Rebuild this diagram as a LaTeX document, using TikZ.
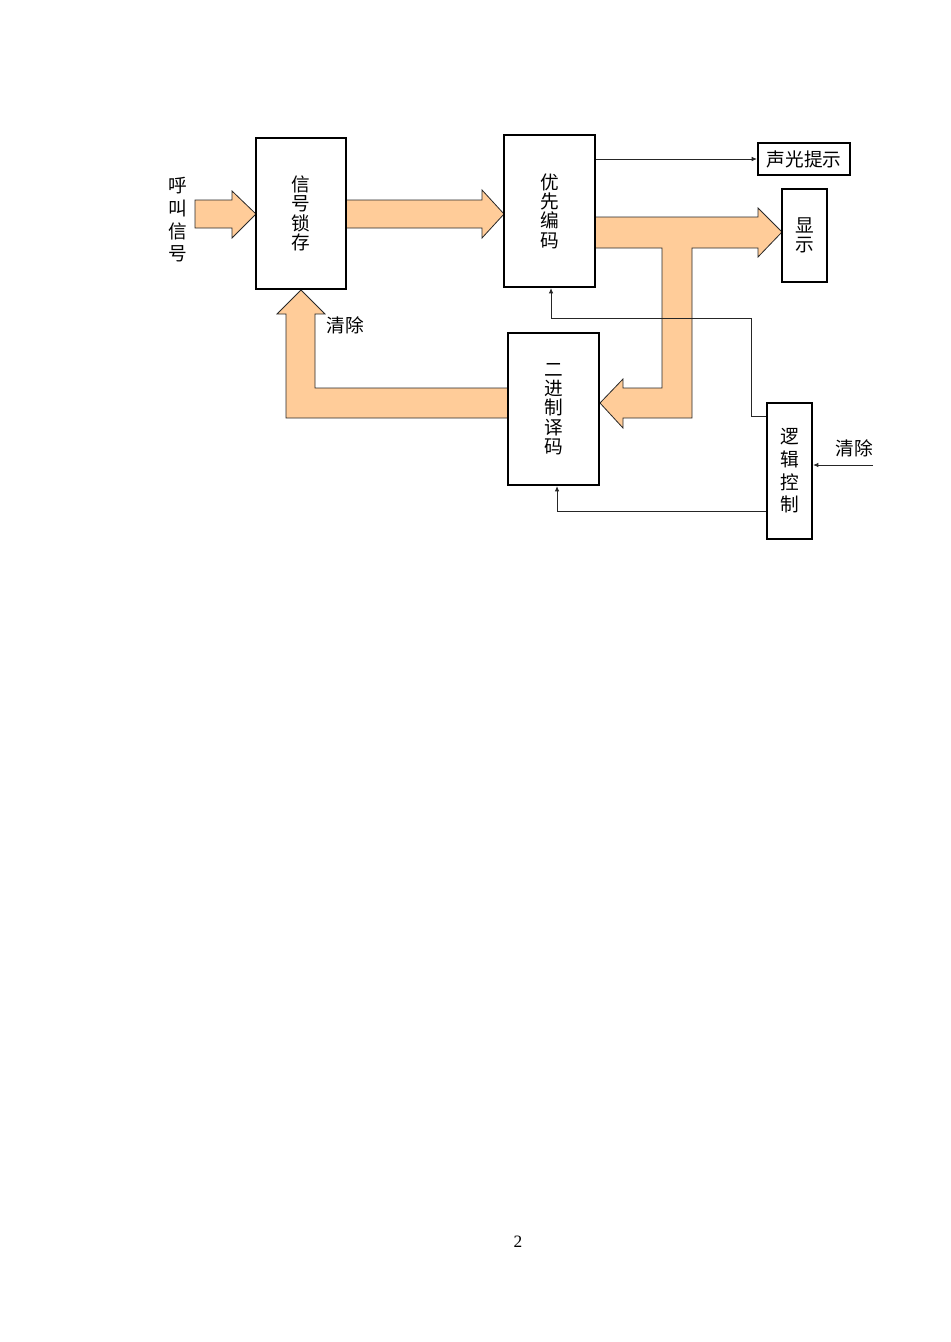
\documentclass[tikz,border=0pt]{standalone}
\usepackage{fontspec}
\setmainfont{Liberation Serif}
\newfontfamily\cjk{Noto Sans CJK SC}
\usetikzlibrary{calc,arrows.meta}
\definecolor{bus}{RGB}{255,204,153}
\definecolor{busline}{RGB}{40,40,40}
\tikzset{
  blockbox/.style={draw=black, line width=1.6pt, fill=white, inner sep=0pt, align=center,
    font=\cjk\fontsize{14}{14.5}\selectfont},
  busarrow/.style={fill=bus, draw=busline, line width=0.6pt, line join=miter},
  thinarrow/.style={draw=black!85, line width=0.7pt, -{Latex[length=4pt,width=3.5pt]}},
  lbl/.style={inner sep=0pt, align=center, font=\cjk\fontsize{14}{17}\selectfont}
}
\begin{document}
\begin{tikzpicture}[x=0.75pt, y=-0.75pt]
\useasboundingbox (0,0) rectangle (950,1342);

% big bus arrows (drawn first, boxes on top)
\draw[busarrow] (195,200) -- (232,200) -- (232,191) -- (256,214) -- (232,238) -- (232,228) -- (195,228) -- cycle;
\draw[busarrow] (346,200) -- (482,200) -- (482,190) -- (504,214) -- (482,238) -- (482,228) -- (346,228) -- cycle;
\draw[busarrow] (595,217) -- (758,217) -- (758,208) -- (782,232) -- (758,257) -- (758,248) -- (692,248)
  -- (692,418) -- (623,418) -- (623,428) -- (600,403) -- (623,379) -- (623,388) -- (662,388)
  -- (662,248) -- (595,248) -- cycle;
\draw[busarrow] (508,388) -- (315,388) -- (315,314) -- (325,314) -- (301,290) -- (277,314) -- (286,314)
  -- (286,418) -- (508,418) -- cycle;

% blocks
\node[blockbox, minimum width=90*0.75pt, minimum height=151*0.75pt] (latch) at (301,213.5) {信\\号\\锁\\存};
\node[blockbox, minimum width=91*0.75pt, minimum height=152*0.75pt] (enc) at (549.5,211) {优\\先\\编\\码};
\node[blockbox, minimum width=92*0.75pt, minimum height=32*0.75pt] (sound) at (804,159) {声光提示};
\node[blockbox, minimum width=45*0.75pt, minimum height=93*0.75pt] (disp) at (804.5,235.5) {显\\示};
\node[blockbox, minimum width=91*0.75pt, minimum height=152*0.75pt] (dec) at (553.5,409) {二\\进\\制\\译\\码};
\node[blockbox, minimum width=45*0.75pt, minimum height=136*0.75pt,
  font=\cjk\fontsize{14}{17}\selectfont] (logic) at (789.5,471) {逻\\辑\\控\\制};

% labels
\node[lbl] (call) at (178,220) {呼\\叫\\信\\号};
\node[lbl] (clr1) at (345,325) {清除};
\node[lbl] (clr2) at (854,448) {清除};
\node[inner sep=0pt, font=\fontsize{13}{15}\selectfont] (page) at (518,1242) {2};

% thin connectors
\coordinate (clrin) at (873,465);
\draw[thinarrow] (sound.west -| enc.east) -- (sound.west);
\draw[thinarrow] ($(logic.north west)+(0,15)$) -- ++(-14,0) |- ($(enc.south)+(1.5,30)$) -- ($(enc.south)+(1.5,0)$);
\draw[thinarrow] ($(logic.south west)+(0,-29)$) -| ($(dec.south)+(3.5,0)$);
\draw[thinarrow] (clrin) -- (clrin -| logic.east);
\end{tikzpicture}
\end{document}
